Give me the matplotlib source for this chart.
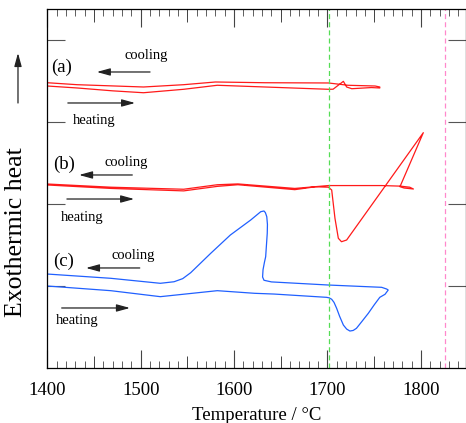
import matplotlib
matplotlib.use("Agg")
import matplotlib.pyplot as plt
from matplotlib.ticker import MultipleLocator, FixedLocator, NullFormatter

plt.rcParams['font.family'] = ['Liberation Serif', 'DejaVu Serif']

# ---- data (temperature in degC, signal in arbitrary offset units) ----
a_heat_T = [1400, 1432, 1470, 1503, 1546, 1582, 1633, 1701, 1706, 1717, 1720.5, 1726, 1747, 1756]
a_heat_y = [3.439, 3.415, 3.38, 3.357, 3.399, 3.448, 3.427, 3.399, 3.40, 3.496, 3.427, 3.406, 3.42, 3.415]
a_cool_T = [1756, 1751, 1722, 1701, 1633, 1580, 1546, 1503, 1470, 1432, 1400]
a_cool_y = [3.427, 3.439, 3.448, 3.476, 3.479, 3.488, 3.455, 3.427, 3.44, 3.455, 3.479]

b_heat_T = [1400, 1468, 1546, 1582, 1604, 1665, 1687, 1701, 1704.5, 1708, 1711.6, 1715, 1720.5, 1802.6]
b_heat_y = [2.232, 2.19, 2.16, 2.215, 2.235, 2.175, 2.21, 2.205, 2.171, 1.826, 1.582, 1.540, 1.561, 2.870]
b_cool_T = [1802.6, 1777.6, 1782, 1792, 1788, 1778, 1758, 1701, 1665, 1604, 1582, 1546, 1468, 1400]
b_cool_y = [2.870, 2.211, 2.195, 2.183, 2.205, 2.218, 2.225, 2.225, 2.19, 2.245, 2.235, 2.18, 2.205, 2.244]

c_heat_T = [1400, 1468, 1521, 1582, 1622, 1642.7, 1699, 1702, 1704.5, 1707, 1709.8, 1713, 1717, 1720.5, 1724,
            1727.5, 1731, 1737, 1743.7, 1750, 1756, 1761.6, 1765]
c_heat_y = [1.0, 0.943, 0.870, 0.943, 0.911, 0.902, 0.862, 0.855, 0.838, 0.80, 0.728, 0.63, 0.524, 0.475, 0.451,
            0.458, 0.484, 0.57, 0.667, 0.77, 0.862, 0.899, 0.951]
c_cool_T = [1765, 1763.4, 1758, 1701, 1640, 1632, 1630.5, 1631, 1632.5, 1633.8, 1635.5, 1635.7, 1635, 1633.5, 1632,
            1628.5, 1617.8, 1596, 1575, 1553.5, 1545, 1535.7, 1521, 1468, 1400]
c_cool_y = [0.951, 0.963, 0.984, 1.012, 1.05, 1.07, 1.11, 1.2, 1.29, 1.357, 1.643, 1.75, 1.845, 1.895, 1.915,
            1.906, 1.805, 1.622, 1.399, 1.162, 1.09, 1.052, 1.033, 1.094, 1.146]

ref_lines = [1702, 1826]
ref_colors = ['#55dd55', '#ff88cc']

labels = ['(a)', '(b)', '(c)']
label_pos = [(1415.7, 3.67), (1418, 2.488), (1417, 1.296)]
cool_text_pos = [(1505.7, 3.805), (1484, 2.504), (1492, 1.370)]
heat_text_pos = [(1450, 3.024), (1437, 1.841), (1432, 0.577)]
cool_arrows = [((1510, 3.61), (1453, 3.61)), ((1491, 2.354), (1434, 2.354)), ((1499, 1.22), (1441.4, 1.22))]
heat_arrows = [((1422, 3.232), (1494, 3.232)), ((1421, 2.061), (1493, 2.061)), ((1415.4, 0.732), (1488.5, 0.732))]

xticks = [1400, 1500, 1600, 1700, 1800]
mid_ticks = [1450, 1550, 1650, 1750]
yticks = [1, 2, 3, 4]

# ---- figure ----
fig = plt.figure(figsize=(4.66, 4.23), dpi=100)
ax = fig.add_axes([0.1015, 0.130, 0.8979, 0.8487])

red = '#ff1a1a'
blue = '#2060ff'
ax.plot(a_heat_T + a_cool_T, a_heat_y + a_cool_y, color=red, lw=0.9)
ax.plot(b_heat_T + b_cool_T, b_heat_y + b_cool_y, color=red, lw=0.9)
ax.plot(c_heat_T + c_cool_T, c_heat_y + c_cool_y, color=blue, lw=0.9)

for xv, col in zip(ref_lines, ref_colors):
    ax.axvline(xv, color=col, lw=0.9, ls=(0, (4, 2.5)))

ax.set_xlim(1400, 1848)
ax.set_ylim(0, 4.378)

for lab, p in zip(labels, label_pos):
    ax.text(p[0], p[1], lab, fontsize=13.5, ha='center', va='center')
for p in cool_text_pos:
    ax.text(p[0], p[1], 'cooling', fontsize=10.5, ha='center', va='center')
for p in heat_text_pos:
    ax.text(p[0], p[1], 'heating', fontsize=10.5, ha='center', va='center')
for (s, e) in cool_arrows + heat_arrows:
    ax.annotate('', xy=e, xytext=s,
                arrowprops=dict(arrowstyle='-|>,head_length=0.8,head_width=0.22',
                                color='#222222', lw=0.9, shrinkA=0, shrinkB=0))

ax.xaxis.set_major_locator(FixedLocator(xticks))
ax.xaxis.set_minor_locator(MultipleLocator(10))
ax.yaxis.set_major_locator(FixedLocator(yticks))
ax.yaxis.set_major_formatter(NullFormatter())
ax.tick_params(axis='x', which='major', direction='in', length=13, width=0.8, top=True,
               labelsize=13.5, pad=10, color='#444444')
ax.tick_params(axis='x', which='minor', direction='in', length=5, width=0.6, top=True, color='#444444')
ax.tick_params(axis='y', which='major', direction='in', length=13, width=0.8, right=True,
               left=True, color='#555555')
for sp in ax.spines.values():
    sp.set_linewidth(0.9)

for loc in ['bottom', 'top']:
    sec = ax.secondary_xaxis(loc)
    sec.set_xticks(mid_ticks)
    sec.xaxis.set_major_formatter(NullFormatter())
    sec.tick_params(direction='in', length=9, width=0.7, color='#444444')
    sec.spines[loc].set_visible(False)

ax.set_xlabel('Temperature / °C', fontsize=13.5, labelpad=6)

fig.text(0.0343, 0.4515, 'Exothermic heat', rotation=90, fontsize=18.5, ha='center', va='center')
fig.add_artist(matplotlib.patches.FancyArrowPatch((0.0386, 0.7565), (0.0386, 0.8747),
               transform=fig.transFigure,
               arrowstyle='-|>,head_length=0.8,head_width=0.22', mutation_scale=10,
               color='#222222', lw=0.9, shrinkA=0, shrinkB=0))

fig.savefig('out.png', dpi=100)
